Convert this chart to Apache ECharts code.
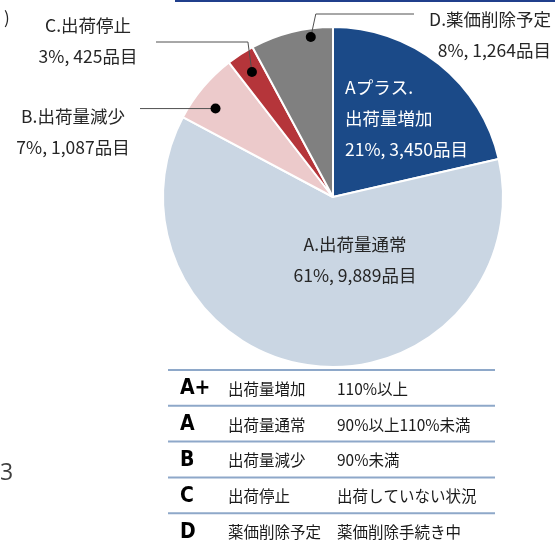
<!DOCTYPE html>
<html><head><meta charset="utf-8">
<script src="https://cdn.jsdelivr.net/npm/echarts@6/dist/echarts.min.js"></script>
<style>html,body{margin:0;padding:0;background:#fff}#c{width:555px;height:544px}</style>
</head><body><div id="c"></div>
<script>
// ---- data ----
const categories = ['A+', 'A', 'B', 'C', 'D'];
const sliceLabels = ['Aプラス.\n出荷量増加', 'A.出荷量通常', 'B.出荷量減少', 'C.出荷停止', 'D.薬価削除予定'];
const itemCounts = [3450, 9889, 1087, 425, 1264];
const tableCodes = ['A+', 'A', 'B', 'C', 'D'];
const tableNames = ['出荷量増加', '出荷量通常', '出荷量減少', '出荷停止', '薬価削除予定'];
const tableDescs = ['110%以上', '90%以上110%未満', '90%未満', '出荷していない状況', '薬価削除手続き中'];

// ---- layout / style ----
const colors = ['#1B4A88', '#CAD6E3', '#ECCACB', '#B5353A', '#808080'];
const CX = 333, CY = 197, R = 170;
const FONT = '"Noto Sans CJK JP", "Noto Sans", sans-serif';
const total = itemCounts.reduce((a, b) => a + b, 0);
const pct = v => Math.round(v / total * 100);

const labelBox = [
  {x: 345, y: 72, align: 'left', color: '#ffffff'},
  {x: 355, y: 229, align: 'center', color: '#262626'},
  {x: 73, y: 101, align: 'center', color: '#262626'},
  {x: 88, y: 10, align: 'center', color: '#262626'},
  {x: 551, y: 4, align: 'right', color: '#262626'}
];
const dotFrac = [null, null, 0.37, 0.5, 0.72];
const dotRad = [null, null, 0.865, 0.876, 0.95];

const cum = [];
{ let s = 0; itemCounts.forEach(v => { cum.push([s / total, (s + v) / total]); s += v; }); }
function dotPoint(i) {
  const f = cum[i][0] + (cum[i][1] - cum[i][0]) * dotFrac[i];
  const a = f * 2 * Math.PI;
  const r = R * dotRad[i];
  return [CX + r * Math.sin(a), CY - r * Math.cos(a)];
}
function linePoints(i) {
  const d = dotPoint(i);
  if (i === 4) return [d, [d[0] + 5, 14], [414, 14]];
  if (i === 3) return [d, [d[0] - 4, 42], [156, 42]];
  if (i === 2) return [d, [140, d[1]]];
  return null;
}

const chart = echarts.init(document.getElementById('c'), null, {renderer: 'canvas'});

const graphics = [];
graphics.push({type: 'rect', shape: {x: 175, y: 0, width: 380, height: 2}, style: {fill: '#203F8C'}, z: 10});
graphics.push({type: 'text', x: 4, y: 9, style: {text: ')', font: '17px ' + FONT, fill: '#262626'}, z: 10});
graphics.push({type: 'text', x: 0, y: 462, style: {text: '3', font: '23px "Open Sans", sans-serif', fill: '#404040'}, z: 10});
[2, 3, 4].forEach(i => {
  graphics.push({type: 'polyline', shape: {points: linePoints(i)}, style: {stroke: '#505050', lineWidth: 1, fill: null}, z: 90});
  const p = dotPoint(i);
  graphics.push({type: 'circle', shape: {cx: p[0], cy: p[1], r: 5}, style: {fill: '#000'}, z: 100});
});
const rowTop = 370, rowH = 35.8;
for (let k = 0; k < 5; k++) {
  const ly = rowTop + k * rowH;
  graphics.push({type: 'rect', shape: {x: 168, y: ly - 1, width: 327, height: 2}, style: {fill: '#8EA8C9'}, z: 10});
  const cy = ly + 19;
  graphics.push({type: 'text', x: 180, y: cy, style: {text: tableCodes[k], font: 'bold 21px "Liberation Sans Narrow", "DejaVu Sans Condensed", sans-serif', fill: '#000', verticalAlign: 'middle'}, z: 10});
  graphics.push({type: 'text', x: 228, y: cy, style: {text: tableNames[k], font: '15.5px ' + FONT, fill: '#1a1a1a', verticalAlign: 'middle'}, z: 10});
  graphics.push({type: 'text', x: 337, y: cy, style: {text: tableDescs[k], font: '15.5px ' + FONT, fill: '#1a1a1a', verticalAlign: 'middle'}, z: 10});
}

chart.setOption({
  animation: false,
  backgroundColor: '#ffffff',
  graphic: graphics,
  series: [{
    type: 'pie',
    center: [CX, CY],
    radius: [0, R],
    startAngle: 90,
    clockwise: true,
    itemStyle: {borderColor: '#ffffff', borderWidth: 2},
    label: {
      show: true,
      position: 'inside',
      overflow: 'none',
      fontFamily: FONT,
      fontSize: 17.5,
      lineHeight: 31,
      formatter: p => sliceLabels[p.dataIndex] + '\n' + pct(itemCounts[p.dataIndex]) + '%, ' + itemCounts[p.dataIndex].toLocaleString('en-US') + '品目'
    },
    labelLine: {show: false},
    labelLayout: p => {
      const b = labelBox[p.dataIndex];
      return {x: b.x, y: b.y, align: b.align, verticalAlign: 'top'};
    },
    data: categories.map((c, i) => ({
      name: c,
      value: itemCounts[i],
      itemStyle: {color: colors[i]},
      label: {color: labelBox[i].color, align: labelBox[i].align}
    }))
  }]
});
</script>
</body></html>
